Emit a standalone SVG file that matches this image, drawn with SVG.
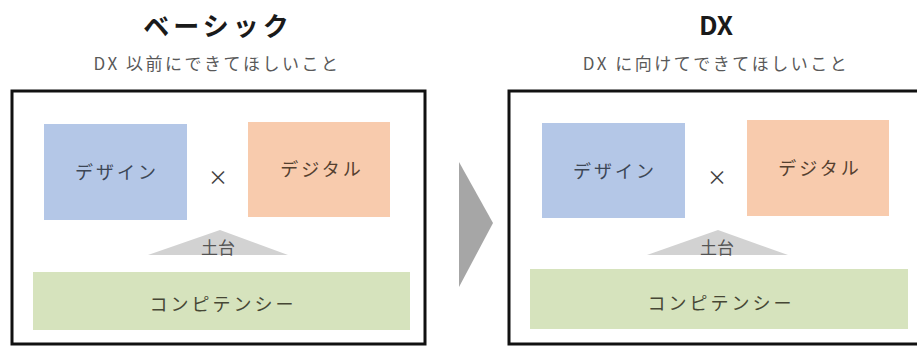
<svg xmlns="http://www.w3.org/2000/svg" width="917" height="347" viewBox="0 0 917 347">
  <style>
    text { font-family: "Noto Sans CJK JP", "Noto Sans", sans-serif; text-anchor: middle; }
    .title { font-size: 26px; font-weight: bold; fill: #1a1a1a; }
    .sub { font-size: 17px; fill: #595959; letter-spacing: 2.5px; }
    .frame { fill: #ffffff; stroke: #111111; stroke-width: 3; }
    .design { fill: #b4c7e7; }
    .digital { fill: #f8cbad; }
    .comp { fill: #d6e3bd; }
    .base { fill: #d2d2d2; }
    .lbl { font-size: 18px; letter-spacing: 3px; }
    .ldesign { fill: #3c4655; }
    .ldigital { fill: #54402f; }
    .lcomp { fill: #464735; }
    .times { font-size: 20px; fill: #404040; }
    .dodai { font-size: 17px; fill: #555555; }
  </style>

  <g id="heading-basic">
    <text class="title" x="218" y="36" letter-spacing="4">ベーシック</text>
    <text class="sub" x="217" y="70">DX 以前にできてほしいこと</text>
  </g>
  <g id="heading-dx">
    <text class="title" x="716" y="35">DX</text>
    <text class="sub" x="716" y="70">DX に向けてできてほしいこと</text>
  </g>

  <g id="panel-basic">
    <rect class="frame" x="12" y="91" width="413" height="253"/>
  </g>
  <g id="panel-dx">
    <rect class="frame" x="509" y="91" width="420" height="253"/>
  </g>

  <g id="basic-design">
    <rect class="design" x="44" y="124" width="143" height="96"/>
    <text class="lbl ldesign" x="117" y="179">デザイン</text>
  </g>
  <g id="basic-times">
    <text class="times" x="218" y="185">×</text>
  </g>
  <g id="basic-digital">
    <rect class="digital" x="248" y="122" width="142" height="95"/>
    <text class="lbl ldigital" x="322" y="176">デジタル</text>
  </g>
  <g id="basic-base">
    <polygon class="base" points="220,230 288,255 148,255"/>
    <text class="dodai" x="218" y="254">土台</text>
  </g>
  <g id="basic-competency">
    <rect class="comp" x="33" y="272" width="377" height="58"/>
    <text class="lbl lcomp" x="223" y="311">コンピテンシー</text>
  </g>

  <g id="dx-design">
    <rect class="design" x="542" y="123" width="143" height="95"/>
    <text class="lbl ldesign" x="615" y="178">デザイン</text>
  </g>
  <g id="dx-times">
    <text class="times" x="717" y="185">×</text>
  </g>
  <g id="dx-digital">
    <rect class="digital" x="747" y="120" width="142" height="96"/>
    <text class="lbl ldigital" x="820" y="175">デジタル</text>
  </g>
  <g id="dx-base">
    <polygon class="base" points="718,230 788,255 647,255"/>
    <text class="dodai" x="717" y="254">土台</text>
  </g>
  <g id="dx-competency">
    <rect class="comp" x="530" y="269" width="378" height="60"/>
    <text class="lbl lcomp" x="721" y="310">コンピテンシー</text>
  </g>

  <g id="connectors">
    <polygon points="459,162 493,223 459,287" fill="#a6a6a6"/>
  </g>
</svg>
